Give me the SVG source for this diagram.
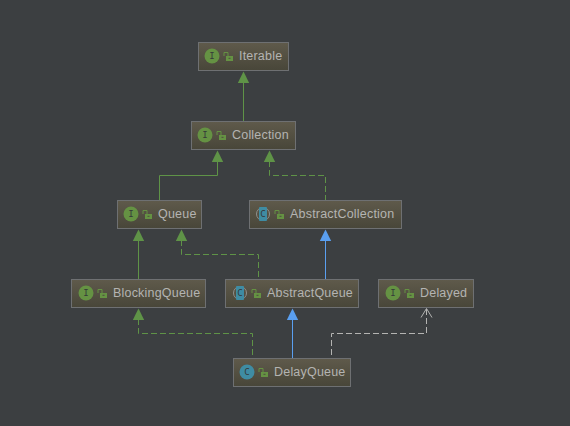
<svg xmlns="http://www.w3.org/2000/svg" width="570" height="426" viewBox="0 0 570 426">
<style>
.box{fill:url(#bg);stroke:#6e7072;stroke-width:1}
.lbl{font:12.500px "Liberation Sans",Arial,sans-serif;fill:#b4b4b2;letter-spacing:.2px}
.ltr{font:9px "DejaVu Sans Mono","Liberation Mono",monospace;fill:#35393a;text-anchor:middle}
.i{fill:#659243}
.c{fill:#3f8ca3}
.g{stroke:#5f9347;fill:none;stroke-width:1}
.gf{fill:#5f9347;stroke:none}
.b{stroke:#5a9ff0;fill:none;stroke-width:1}
.bf{fill:#5a9ff0;stroke:none}
.d{stroke-dasharray:6 3}
.w{stroke:#b4b4b2;fill:none;stroke-width:1}
.lb{fill:#659243}
.ls{fill:none;stroke:#659243;stroke-width:1}
</style>
<defs>
<linearGradient id="bg" x1="0" y1="0" x2="0" y2="1"><stop offset="0" stop-color="#5f5a4b"/><stop offset="1" stop-color="#484639"/></linearGradient>
<g id="lock"><path class="ls" d="M-4 0V-3.500H0V0"/><rect class="lb" x="-2" y="0" width="7" height="5"/><rect x="0.500" y="1.800" width="2" height="1" fill="#4f4c3f"/></g>
<g id="ci"><circle r="7.500" class="i"/><text class="ltr" y="3.200">I</text></g>
<g id="cc"><circle r="7.500" class="c"/><text class="ltr" y="3.200">C</text></g>
<g id="ca"><circle r="6.500" fill="none" stroke="#8f908e" stroke-width="1"/><rect x="-4" y="-7" width="8" height="14" rx="1" class="c"/><text class="ltr" y="3.200">C</text></g>
</defs>
<rect width="570" height="426" fill="#3c3f41"/>
<g id="connectors">
<path class="g" d="M243.500 82V121"/><path class="gf" d="M243.500 71.500L249.200 83H237.800Z"/>
<path class="g" d="M217.500 161V175.500H159.500V200"/><path class="gf" d="M217.500 150.500L223.200 162H211.800Z"/>
<path class="g d" d="M269.500 161V175.500H325.500V200"/><path class="gf" d="M269.500 150.500L275.200 162H263.800Z"/>
<path class="b" d="M325.500 240V279"/><path class="bf" d="M325.500 229.500L331.200 241H319.800Z"/>
<path class="g" d="M138.500 240V279"/><path class="gf" d="M138.500 229.500L144.200 241H132.800Z"/>
<path class="g d" d="M181.500 240V254.500H258.500V279"/><path class="gf" d="M181.500 229.500L187.200 241H175.800Z"/>
<path class="g d" d="M138.500 319V333.500H252.500V358"/><path class="gf" d="M138.500 308.500L144.200 320H132.800Z"/>
<path class="b" d="M292.500 319V358"/><path class="bf" d="M292.500 308.500L298.200 320H286.800Z"/>
<path class="w d" d="M426.500 309V333.500H331.500V358"/><path class="w" d="M421 317.500L426.500 308.500L432 317.500"/>
</g>
<g id="iterable"><rect class="box" x="198.500" y="42.500" width="90" height="28"/><use href="#ci" x="212" y="56"/><use href="#lock" x="228" y="56"/><text class="lbl" x="239" y="60">Iterable</text></g>
<g id="collection"><rect class="box" x="191.500" y="121.500" width="104" height="28"/><use href="#ci" x="205" y="135"/><use href="#lock" x="221" y="135"/><text class="lbl" x="232" y="139">Collection</text></g>
<g id="queue"><rect class="box" x="117.500" y="200.500" width="84" height="28"/><use href="#ci" x="131" y="214"/><use href="#lock" x="147" y="214"/><text class="lbl" x="158" y="218">Queue</text></g>
<g id="abstractcollection"><rect class="box" x="249.500" y="200.500" width="152" height="28"/><use href="#ca" x="263" y="214"/><use href="#lock" x="279" y="214"/><text class="lbl" x="290" y="218">AbstractCollection</text></g>
<g id="blockingqueue"><rect class="box" x="71.500" y="279.500" width="134" height="28"/><use href="#ci" x="86" y="293"/><use href="#lock" x="102" y="293"/><text class="lbl" x="113" y="297">BlockingQueue</text></g>
<g id="abstractqueue"><rect class="box" x="225.500" y="279.500" width="133" height="28"/><use href="#ca" x="240" y="293"/><use href="#lock" x="256" y="293"/><text class="lbl" x="267" y="297">AbstractQueue</text></g>
<g id="delayed"><rect class="box" x="378.500" y="279.500" width="95" height="28"/><use href="#ci" x="393" y="293"/><use href="#lock" x="409" y="293"/><text class="lbl" x="420" y="297">Delayed</text></g>
<g id="delayqueue"><rect class="box" x="233.500" y="358.500" width="117" height="28"/><use href="#cc" x="247" y="372"/><use href="#lock" x="263" y="372"/><text class="lbl" x="274" y="376">DelayQueue</text></g>
</svg>
